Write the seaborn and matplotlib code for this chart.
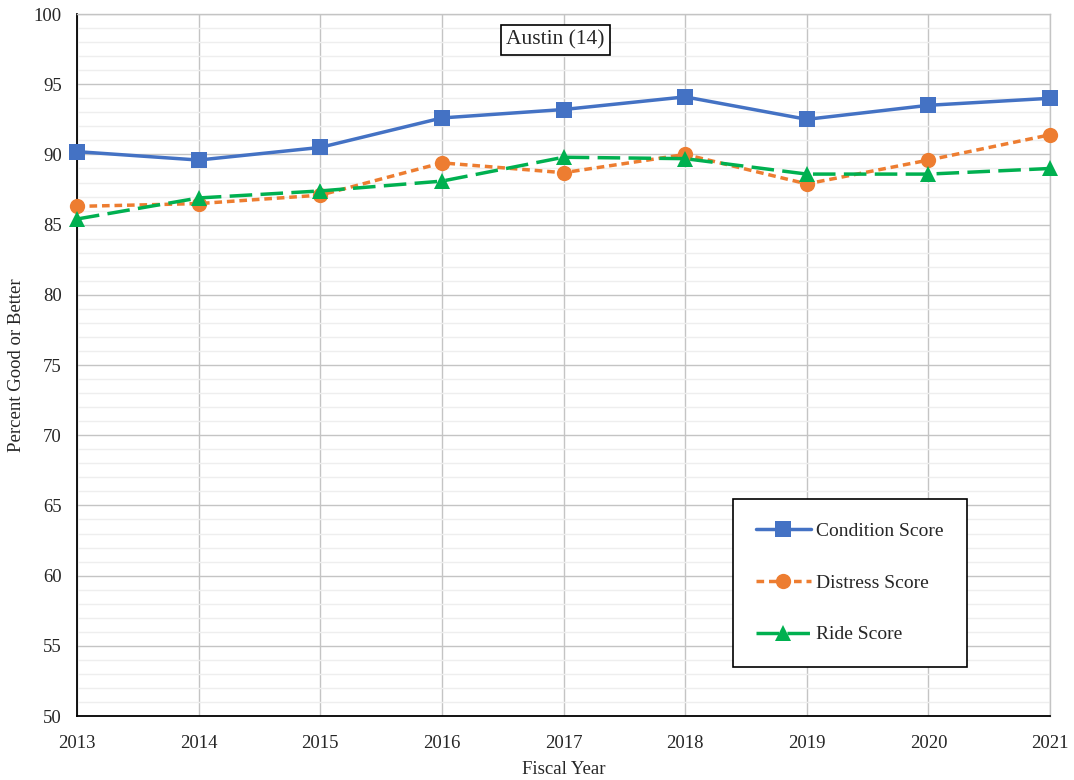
import matplotlib
matplotlib.use("Agg")
import matplotlib.pyplot as plt
from matplotlib.ticker import MultipleLocator
import seaborn as sns
import pandas as pd

# Pavement condition percentages, Austin district
years = [2013, 2014, 2015, 2016, 2017, 2018, 2019, 2020, 2021]
condition_score = [90.2, 89.6, 90.5, 92.6, 93.2, 94.1, 92.5, 93.5, 94.0]
distress_score = [86.3, 86.5, 87.1, 89.4, 88.7, 90.0, 87.9, 89.6, 91.4]
ride_score = [85.4, 86.9, 87.4, 88.1, 89.8, 89.7, 88.6, 88.6, 89.0]
series_names = ["Condition Score", "Distress Score", "Ride Score"]

df = pd.concat([
    pd.DataFrame({"Fiscal Year": years, "Percent": vals, "Series": name})
    for name, vals in zip(series_names, [condition_score, distress_score, ride_score])
])

sns.set_style("white")
plt.rcParams["font.family"] = ["Liberation Serif", "DejaVu Serif"]

fig = plt.figure(figsize=(10.74, 7.8), dpi=100)
ax = fig.add_axes([0.0717, 0.082, 0.906, 0.9])

palette = {"Condition Score": "#4472C4", "Distress Score": "#ED7D31", "Ride Score": "#00B050"}
markers = {"Condition Score": "s", "Distress Score": "o", "Ride Score": "^"}
dashes = {"Condition Score": "", "Distress Score": (2.2, 1.4), "Ride Score": (6.5, 2.4)}

sns.lineplot(data=df, x="Fiscal Year", y="Percent", hue="Series", style="Series",
             palette=palette, markers=markers, dashes=dashes, linewidth=2.5,
             markersize=11, markeredgewidth=0, ax=ax, zorder=3)
for line in ax.get_lines():
    line.set_clip_on(False)

ax.set_xlim(2013, 2021)
ax.set_ylim(50, 100)
ax.xaxis.set_major_locator(MultipleLocator(1))
ax.yaxis.set_major_locator(MultipleLocator(5))
ax.yaxis.set_minor_locator(MultipleLocator(1))
ax.grid(which="major", axis="both", color="#C4C4C4", linewidth=1.0, zorder=0)
ax.grid(which="minor", axis="y", color="#EEEEEE", linewidth=1.0, zorder=0)
ax.set_axisbelow(True)

for side in ["top", "right"]:
    ax.spines[side].set_color("#C4C4C4")
    ax.spines[side].set_linewidth(1.0)
for side in ["left", "bottom"]:
    ax.spines[side].set_color("black")
    ax.spines[side].set_linewidth(1.3)

ax.tick_params(axis="both", which="both", length=0, labelsize=13.5)
ax.tick_params(axis="x", pad=14)
ax.tick_params(axis="y", pad=11)
ax.set_xlabel("Fiscal Year", fontsize=13.5, labelpad=6)
ax.set_ylabel("Percent Good or Better", fontsize=13.5, labelpad=6)

ax.text(0.492, 0.963, "Austin (14)", transform=ax.transAxes, ha="center", va="center",
        fontsize=15.5, bbox=dict(boxstyle="square,pad=0.25", facecolor="white",
                                 edgecolor="black", linewidth=1.2), zorder=5)

handles, labels = ax.get_legend_handles_labels()
leg = ax.legend(handles, labels, loc="upper left", bbox_to_anchor=(0.674, 0.309),
                frameon=True, fancybox=False, fontsize=14, labelspacing=1.75,
                borderpad=1.2, handlelength=2.8, handletextpad=0.3,
                borderaxespad=0)
leg.get_frame().set_edgecolor("black")
leg.get_frame().set_linewidth(1.2)
leg.get_frame().set_alpha(1)
leg.set_zorder(6)

fig.savefig("out.png", dpi=100)
